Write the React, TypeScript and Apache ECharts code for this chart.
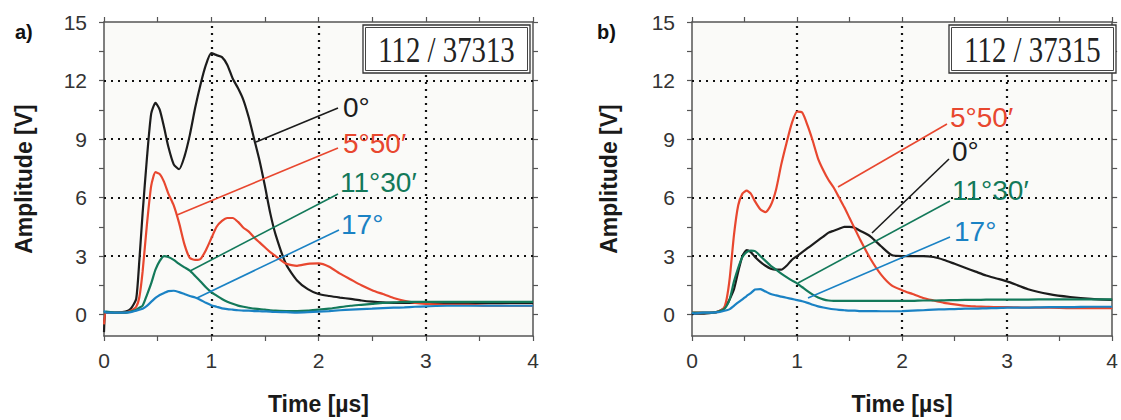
import React, { useEffect, useRef } from "react";
import * as echarts from "echarts";

// ---------- data ----------
const TIME = [0, 0.02, 0.1, 0.2, 0.25, 0.3, 0.33, 0.36, 0.4, 0.44, 0.48, 0.52, 0.56, 0.6, 0.65, 0.7, 0.75, 0.8, 0.85, 0.9, 0.95, 1.0, 1.05, 1.1, 1.15, 1.2, 1.25, 1.3, 1.35, 1.4, 1.45, 1.5, 1.55, 1.6, 1.7, 1.8, 1.9, 2.0, 2.1, 2.2, 2.3, 2.4, 2.5, 2.6, 2.7, 2.8, 2.9, 3.0, 3.2, 3.4, 3.6, 3.8, 4.0];

// panel a) 112 / 37313
const A_BLACK = [-0.9, 0.1, 0.1, 0.15, 0.3, 0.8, 2.8, 5.2, 8.0, 10.3, 10.85, 10.5, 9.6, 8.6, 7.7, 7.45, 8.1, 9.2, 10.6, 11.8, 12.8, 13.4, 13.3, 13.2, 12.8, 12.1, 11.6, 11.0, 10.1, 9.0, 7.9, 6.6, 5.2, 4.1, 2.55, 1.75, 1.3, 1.05, 0.95, 0.87, 0.8, 0.72, 0.66, 0.62, 0.6, 0.6, 0.6, 0.6, 0.6, 0.58, 0.58, 0.6, 0.6];
const A_RED = [-0.5, 0.1, 0.1, 0.1, 0.2, 0.4, 0.9, 2.2, 4.6, 6.6, 7.3, 7.2, 6.8, 6.2, 5.6, 4.7, 3.6, 2.9, 2.8, 2.85, 3.3, 3.9, 4.5, 4.8, 4.95, 4.95, 4.75, 4.45, 4.25, 3.95, 3.7, 3.45, 3.2, 3.0, 2.6, 2.5, 2.6, 2.62, 2.45, 2.1, 1.8, 1.5, 1.25, 1.05, 0.85, 0.7, 0.6, 0.55, 0.5, 0.5, 0.45, 0.45, 0.45];
const A_GREEN = [0.1, 0.15, 0.1, 0.1, 0.15, 0.25, 0.35, 0.45, 1.0, 1.6, 2.3, 2.75, 3.0, 2.95, 2.8, 2.6, 2.42, 2.25, 1.98, 1.7, 1.4, 1.15, 0.97, 0.8, 0.66, 0.55, 0.46, 0.4, 0.35, 0.3, 0.28, 0.25, 0.22, 0.2, 0.18, 0.18, 0.2, 0.25, 0.3, 0.38, 0.45, 0.5, 0.55, 0.6, 0.62, 0.65, 0.65, 0.65, 0.65, 0.65, 0.65, 0.65, 0.65];
const A_BLUE = [0.2, 0.1, 0.1, 0.1, 0.12, 0.2, 0.25, 0.3, 0.45, 0.65, 0.85, 1.0, 1.1, 1.2, 1.22, 1.15, 1.05, 0.95, 0.87, 0.75, 0.6, 0.48, 0.4, 0.32, 0.28, 0.25, 0.22, 0.2, 0.2, 0.18, 0.17, 0.16, 0.15, 0.13, 0.12, 0.1, 0.12, 0.15, 0.18, 0.22, 0.25, 0.28, 0.3, 0.33, 0.35, 0.37, 0.4, 0.42, 0.45, 0.45, 0.45, 0.45, 0.45];

// panel b) 112 / 37315
const B_BLACK = [0.0, 0.05, 0.05, 0.1, 0.15, 0.3, 0.5, 0.8, 1.3, 2.2, 3.0, 3.3, 3.2, 2.95, 2.7, 2.5, 2.35, 2.3, 2.3, 2.5, 2.8, 3.0, 3.2, 3.4, 3.6, 3.8, 4.0, 4.2, 4.3, 4.4, 4.5, 4.5, 4.45, 4.3, 4.0, 3.5, 3.05, 3.0, 3.0, 3.0, 2.95, 2.8, 2.6, 2.4, 2.2, 2.0, 1.85, 1.7, 1.3, 1.05, 0.9, 0.8, 0.75];
const B_RED = [0.1, 0.1, 0.1, 0.1, 0.15, 0.3, 0.8, 1.9, 4.1, 5.6, 6.2, 6.35, 6.2, 5.8, 5.4, 5.25, 5.6, 6.4, 7.7, 8.8, 9.8, 10.4, 10.35, 9.7, 8.9, 8.0, 7.4, 6.9, 6.5, 6.0, 5.5, 4.95, 4.4, 3.85, 2.85, 2.05, 1.5, 1.25, 1.05, 0.85, 0.72, 0.6, 0.52, 0.45, 0.42, 0.4, 0.38, 0.38, 0.35, 0.35, 0.33, 0.33, 0.33];
const B_GREEN = [0.1, 0.1, 0.1, 0.1, 0.15, 0.25, 0.45, 0.8, 1.7, 2.4, 2.95, 3.2, 3.28, 3.25, 3.0, 2.75, 2.5, 2.3, 2.1, 1.92, 1.75, 1.6, 1.4, 1.2, 1.02, 0.88, 0.78, 0.72, 0.7, 0.7, 0.7, 0.7, 0.7, 0.7, 0.7, 0.7, 0.7, 0.7, 0.7, 0.72, 0.72, 0.73, 0.74, 0.75, 0.75, 0.76, 0.76, 0.77, 0.77, 0.78, 0.78, 0.78, 0.78];
const B_BLUE = [0.1, 0.05, 0.1, 0.1, 0.12, 0.18, 0.22, 0.28, 0.45, 0.62, 0.78, 0.95, 1.1, 1.28, 1.3, 1.18, 1.05, 0.98, 0.92, 0.86, 0.8, 0.74, 0.68, 0.6, 0.5, 0.42, 0.36, 0.31, 0.27, 0.24, 0.22, 0.2, 0.2, 0.18, 0.18, 0.17, 0.17, 0.18, 0.2, 0.22, 0.25, 0.27, 0.28, 0.3, 0.3, 0.32, 0.33, 0.35, 0.36, 0.38, 0.38, 0.4, 0.4];

const ANGLE_LABELS = ["0°", "5°50′", "11°30′", "17°"];
const PANEL_TITLES = ["a)", "b)"];
const SHOT_IDS = ["112 / 37313", "112 / 37315"];
const X_NAME = "Time [µs]";
const Y_NAME = "Amplitude [V]";
const Y_LABEL_VALUES = [0, 3, 6, 9, 12, 15];
const Y_TICK_VALUES = [0, 1.5, 3, 4.5, 6, 7.5, 9, 10.5, 12, 13.5, 15];
const GRID_Y = [3, 6, 9, 12];
const GRID_X = [1, 2, 3];

// ---------- styles ----------
const COLORS = ["#1c1c1c", "#e8472f", "#13795a", "#1a82c4"];
const SANS = '"Liberation Sans", Arial, sans-serif';
const SERIF = '"Liberation Serif", "Times New Roman", serif';
const AXIS_COLOR = "#555";

const PANELS = [
  { left: 104, width: 429, series: [A_BLACK, A_RED, A_GREEN, A_BLUE], yNameGap: 69 },
  { left: 692, width: 428, series: [B_BLACK, B_RED, B_GREEN, B_BLUE], yNameGap: 72 },
];

export default function App() {
  const ref = useRef<HTMLDivElement>(null);

  useEffect(() => {
    if (!ref.current) return;
    const chart = echarts.init(ref.current, null, { renderer: "svg" });

    const grids: any[] = [];
    const xAxes: any[] = [];
    const yAxes: any[] = [];
    const series: any[] = [];

    const tickStyle = { color: AXIS_COLOR, width: 1.2 };

    PANELS.forEach((p, pi) => {
      grids.push({
        left: p.left,
        top: 22,
        width: p.width,
        height: 315,
        show: true,
        backgroundColor: "#fafaf8",
        borderWidth: 0,
      });
      ["bottom", "top"].forEach((pos) => {
        xAxes.push({
          type: "value",
          gridIndex: pi,
          position: pos,
          min: 0,
          max: 4,
          interval: 1,
          axisLine: { show: true, onZero: false, lineStyle: { color: AXIS_COLOR, width: 1.5 } },
          axisTick: { show: true, inside: false, length: 5, lineStyle: tickStyle },
          minorTick: { show: true, splitNumber: 2, length: 5, lineStyle: tickStyle },
          splitLine: { show: false },
          axisLabel:
            pos === "bottom"
              ? { show: true, fontSize: 21, fontFamily: SANS, color: "#333", margin: 14 }
              : { show: false },
          name: pos === "bottom" ? X_NAME : "",
          nameLocation: "middle",
          nameGap: 56,
          nameTextStyle: { fontSize: 23, fontWeight: "bold", fontFamily: SANS, color: "#1a1a1a" },
        });
      });
      ["left", "right"].forEach((pos) => {
        yAxes.push({
          type: "value",
          gridIndex: pi,
          position: pos,
          min: -1.1,
          max: 15,
          axisLine: { show: true, onZero: false, lineStyle: { color: AXIS_COLOR, width: 1.5 } },
          axisTick: { show: true, inside: false, length: 5, lineStyle: tickStyle, customValues: Y_TICK_VALUES },
          splitLine: { show: false },
          axisLabel:
            pos === "left"
              ? { show: true, fontSize: 21, fontFamily: SANS, color: "#333", margin: 17, customValues: Y_LABEL_VALUES }
              : { show: false },
          name: pos === "left" ? Y_NAME : "",
          nameLocation: "middle",
          nameGap: p.yNameGap,
          nameTextStyle: { fontSize: 23, fontWeight: "bold", fontFamily: SANS, color: "#1a1a1a" },
        });
      });

      p.series.forEach((vals, si) => {
        const s: any = {
          type: "line",
          name: ANGLE_LABELS[si],
          xAxisIndex: pi * 2,
          yAxisIndex: pi * 2,
          data: TIME.map((t, k) => [t, vals[k]]),
          showSymbol: false,
          smooth: 0.2,
          lineStyle: { color: COLORS[si], width: 2.2 },
          itemStyle: { color: COLORS[si] },
          silent: true,
          clip: true,
          z: 2 + si,
        };
        if (si === 0) {
          s.markLine = {
            silent: true,
            z: 1,
            symbol: ["none", "none"],
            label: { show: false },
            emphasis: { disabled: true },
            lineStyle: { color: "#111", width: 2.2, type: [2, 5] },
            data: [
              ...GRID_Y.map((v) => ({ yAxis: v })),
              ...GRID_X.map((v) => ({ xAxis: v })),
            ],
          };
        }
        series.push(s);
      });
    });

    // annotation layout (pixels)
    const leaderA = [
      [256, 142, 338, 108],
      [177, 215, 338, 148],
      [190, 271, 338, 194],
      [197, 298, 339, 230],
    ];
    const textA = [
      [343, 107],
      [343, 143],
      [340, 182],
      [341, 224],
    ];
    const leaderB = [
      [872, 233, 949, 159],
      [838, 187, 947, 124],
      [798, 283, 950, 201],
      [808, 298, 950, 237],
    ];
    const textB = [
      [952, 151],
      [950, 117],
      [952, 190],
      [954, 231],
    ];

    const graphic: any[] = [];
    [leaderA, leaderB].forEach((lines, pi) => {
      const texts = pi === 0 ? textA : textB;
      lines.forEach((l, i) => {
        graphic.push({
          type: "line",
          z: 100,
          silent: true,
          shape: { x1: l[0], y1: l[1], x2: l[2], y2: l[3] },
          style: { stroke: COLORS[i], lineWidth: 1.6 },
        });
        graphic.push({
          type: "text",
          z: 100,
          silent: true,
          x: texts[i][0],
          y: texts[i][1],
          style: {
            text: ANGLE_LABELS[i],
            fontSize: 28,
            fontFamily: SANS,
            fill: COLORS[i],
            align: "left",
            verticalAlign: "middle",
          },
        });
      });
    });

    const boxes = [
      { x: 363, cx: 446.5 },
      { x: 949, cx: 1032.5 },
    ];
    boxes.forEach((b, i) => {
      graphic.push({
        type: "rect",
        z: 100,
        silent: true,
        shape: { x: b.x, y: 25, width: 167, height: 48 },
        style: { fill: "#ffffff", stroke: "#333", lineWidth: 1.3 },
      });
      graphic.push({
        type: "rect",
        z: 100,
        silent: true,
        shape: { x: b.x + 2.5, y: 27.5, width: 162, height: 43 },
        style: { fill: "none", stroke: "#444", lineWidth: 1 },
      });
      graphic.push({
        type: "text",
        z: 101,
        silent: true,
        x: b.cx,
        y: 50,
        scaleX: 0.8,
        style: {
          text: SHOT_IDS[i],
          fontSize: 36,
          fontFamily: SERIF,
          fill: "#222",
          align: "center",
          verticalAlign: "middle",
        },
      });
    });

    [15, 597].forEach((x, i) => {
      graphic.push({
        type: "text",
        z: 100,
        silent: true,
        x,
        y: 32,
        style: {
          text: PANEL_TITLES[i],
          fontSize: 20,
          fontWeight: "bold",
          fontFamily: SANS,
          fill: "#111",
          align: "left",
          verticalAlign: "middle",
        },
      });
    });

    chart.setOption({
      animation: false,
      backgroundColor: "#ffffff",
      grid: grids,
      xAxis: xAxes,
      yAxis: yAxes,
      series,
      graphic,
    });

    return () => chart.dispose();
  }, []);

  return (
    <div
      ref={ref}
      style={{ position: "absolute", left: 0, top: 0, width: 1121, height: 420 }}
    />
  );
}
